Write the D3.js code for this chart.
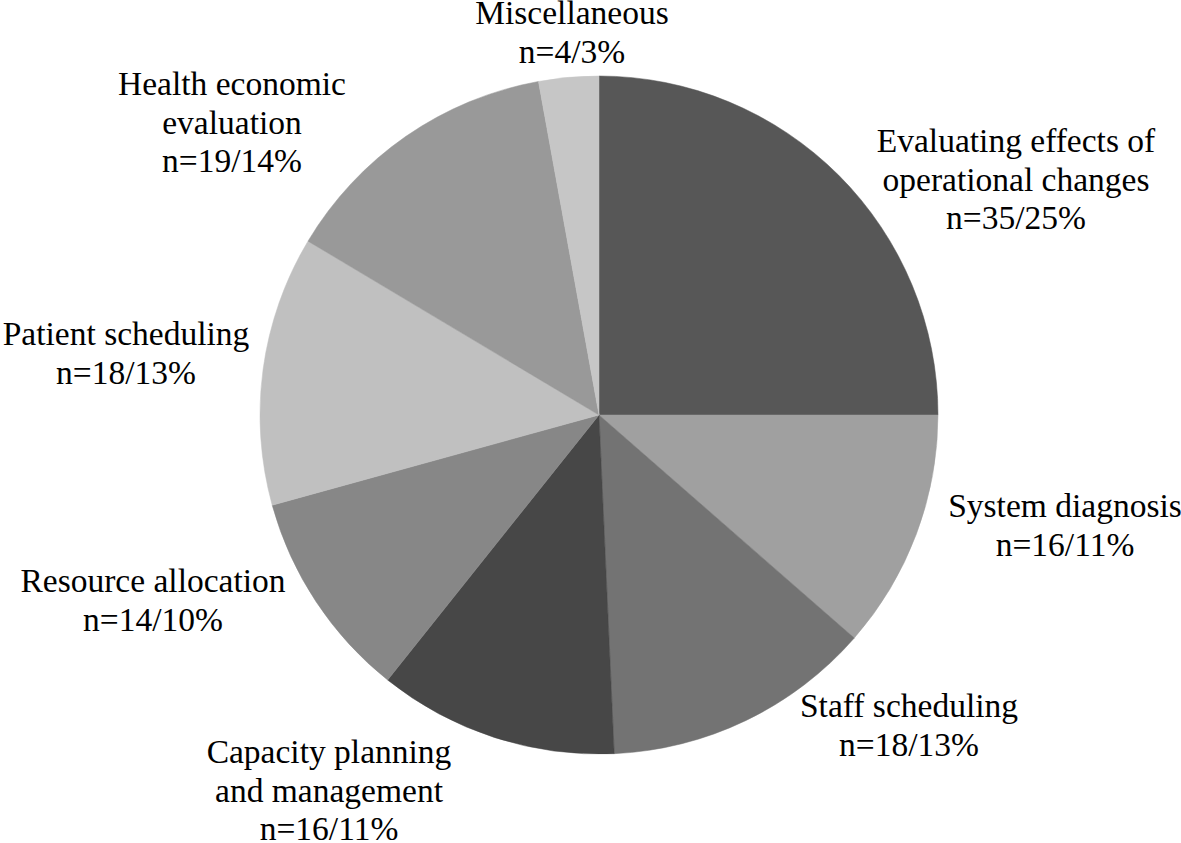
<!DOCTYPE html>
<html>
<head>
<meta charset="utf-8">
<script src="https://cdn.jsdelivr.net/npm/d3@7"></script>
<style>
  html, body { margin: 0; padding: 0; background: #fff; }
  svg { display: block; }
</style>
</head>
<body>
<svg id="chart" width="1181" height="843"></svg>
<script>
// Data
const categories = [
  ["Evaluating effects of", "operational changes"],
  ["System diagnosis"],
  ["Staff scheduling"],
  ["Capacity planning", "and management"],
  ["Resource allocation"],
  ["Patient scheduling"],
  ["Health economic", "evaluation"],
  ["Miscellaneous"]
];
const counts = [35, 16, 18, 16, 14, 18, 19, 4];
const percents = [25, 11, 13, 11, 10, 13, 14, 3];

// Styles
const colors = ["#575757", "#a0a0a0", "#737373", "#474747", "#878787", "#c0c0c0", "#999999", "#c6c6c6"];
// Label anchor (center x, first baseline y)
const labelPos = [
  [1016, 152], [1065, 517], [909, 717], [329, 763],
  [153, 592], [126, 345], [232, 95], [572, 24]
];

const cx = 599, cy = 415, R = 339, lineH = 38.5;
const fontSize = 33.5;

const svg = d3.select("#chart");
const data = counts.map((c, i) => ({ i, value: c }));
const pie = d3.pie().sort(null).value(d => d.value).startAngle(0).endAngle(2 * Math.PI);
const arc = d3.arc().innerRadius(0).outerRadius(R);

const g = svg.append("g").attr("transform", `translate(${cx},${cy})`);
g.selectAll("path")
  .data(pie(data))
  .join("path")
  .attr("d", arc)
  .attr("fill", d => colors[d.data.i])
  .attr("stroke", d => colors[d.data.i])
  .attr("stroke-width", 0.5);

categories.forEach((lines, i) => {
  const all = lines.concat([`n=${counts[i]}/${percents[i]}%`]);
  all.forEach((s, k) => {
    svg.append("text")
      .attr("x", labelPos[i][0])
      .attr("y", labelPos[i][1] + k * lineH)
      .attr("font-size", fontSize)
      .attr("text-anchor", "middle")
      .attr("fill", "#000")
      .style("font-family", "'Liberation Serif', 'Times New Roman', serif")
      .text(s);
  });
});
</script>
</body>
</html>
